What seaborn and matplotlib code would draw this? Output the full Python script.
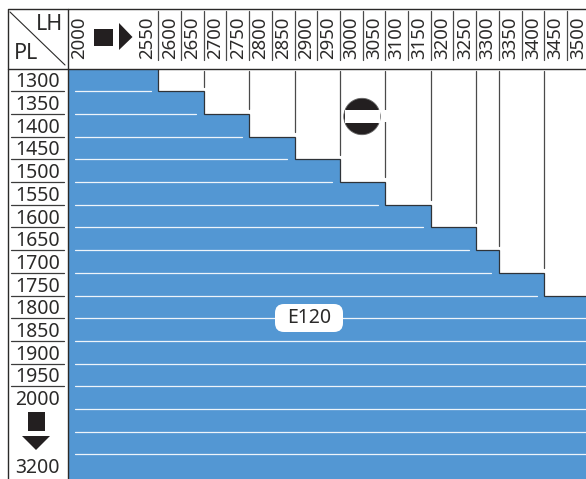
import numpy as np
import seaborn as sns
import matplotlib.pyplot as plt
from matplotlib.patches import Circle, FancyBboxPatch, Polygon, Rectangle

# header and row labels, '' = cell taken by the arrow markers
lh_labels = ['2000', '', '', '2550', '2600', '2650', '2700', '2750', '2800', '2850', '2900',
             '2950', '3000', '3050', '3100', '3150', '3200', '3250', '3300', '3350', '3400',
             '3450', '3500']
pl_labels = ['1300', '1350', '1400', '1450', '1500', '1550', '1600', '1650', '1700', '1750',
             '1800', '1850', '1900', '1950', '2000', '', '', '3200']
# biggest LH available for each PL row
max_lh = ['2550', '2650', '2750', '2850', '2950', '3050', '3150', '3250', '3300', '3400',
          '3500', '3500', '3500', '3500', '3500', '3500', '3500', '3500']

BLUE = '#5397d3'
DARK = '#2b2a29'
W, H = 586, 479
X0, Y0 = 67.5, 68.5
CELL = 22.7

sns.set_theme(style='white')
plt.rcParams['font.family'] = ['Noto Sans', 'DejaVu Sans']

ends = [lh_labels.index(v) + 1 for v in max_lh]
grid = np.zeros((len(pl_labels), len(lh_labels)))
for i, e in enumerate(ends):
    grid[i, :e] = 1

fig = plt.figure(figsize=(W / 100, H / 100), dpi=100)
ax = fig.add_axes([X0 / W, 0, 1 - X0 / W, 1 - Y0 / H])
ax.set_facecolor(BLUE)
sns.heatmap(grid, ax=ax, cmap=['white', BLUE], vmin=0, vmax=1, cbar=False,
            xticklabels=lh_labels, yticklabels=pl_labels)
ax.set_xlim(0, (W - X0) / CELL)
ax.set_ylim((H - Y0) / CELL, 0)
ax.xaxis.tick_top()
ax.tick_params(axis='x', length=0, pad=6.8, labelsize=13.4, labelcolor=DARK, labelrotation=90)
ax.tick_params(axis='y', length=0, pad=21.5, labelsize=14, labelcolor=DARK, labelrotation=0)
for t in ax.get_yticklabels():
    t.set_ha('center')
    t.set_va('center_baseline')

n_rows = len(pl_labels)

# staircase outline
sx, sy = [ends[0]], [0]
for i in range(len(ends) - 1):
    sx += [ends[i], ends[i + 1]]
    sy += [i + 1, i + 1]
    if ends[i + 1] == ends[-1]:
        break
ax.plot(sx, sy, color='#2f3338', lw=0.9, solid_joinstyle='miter', zorder=3)

# white row rules, stopping short of the step
for i in range(n_rows - 1):
    right = ends[i] - 0.33 if ends[i] < len(lh_labels) else len(lh_labels)
    ax.plot([0.33, right], [i + 1, i + 1], color='white', lw=0.9, alpha=0.9, zorder=3)

# column rules in the free area, stopping short of the step
for i in range(1, len(ends)):
    if ends[i] == ends[i - 1]:
        continue
    ax.plot([ends[i]] * 2, [0.12, i - 0.2], color='#4a4a4a', lw=0.9, zorder=2)

# row rules in the label column
for i in range(14):
    ax.plot([(10.5 - X0) / CELL, (63.5 - X0) / CELL], [i + 1, i + 1], color='#3c3c3c', lw=0.9,
            clip_on=False)

# overlay in pixels for frame, markers and callouts
ov = fig.add_axes([0, 0, 1, 1], facecolor='none')
ov.set_xlim(0, W)
ov.set_ylim(H, 0)
ov.axis('off')

ov.plot([W, 7.5, 7.5], [8.5, 8.5, H], color=DARK, lw=1)
ov.plot([67.5, 67.5], [8.5, H], color=DARK, lw=1)
ov.plot([7.5, W], [68.5, 68.5], color=DARK, lw=1)
ov.plot([10, 65], [12, 65], color=DARK, lw=0.8)
ov.text(49.5, 24, 'LH', ha='center', va='center', fontsize=15.5, color=DARK)
ov.text(26.5, 53, 'PL', ha='center', va='center', fontsize=15.5, color=DARK)

# header separators
for k in range(3, len(lh_labels) - 1):
    x = X0 + (k + 1) * CELL
    ov.plot([x, x], [11, 60], color='#4a4a4a', lw=0.9)

# arrow markers
ov.add_patch(Rectangle((94, 29), 19, 17, color='#231f20', lw=0))
ov.add_patch(Polygon([(119, 23), (119, 50), (132.5, 37)], color='#231f20', lw=0))
ov.add_patch(Rectangle((28, 412), 17, 19, color='#231f20', lw=0))
ov.add_patch(Polygon([(22, 436), (50, 436), (36, 450)], color='#231f20', lw=0))

# no-entry mark, with a gap cut into the rule on its right
ov.add_patch(Rectangle((381, 110), 8, 12, color='white', lw=0, zorder=4))
ov.add_patch(Circle((362, 116.5), 18.2, facecolor='#231f20', edgecolor='#666666', lw=0.6, zorder=5))
ov.add_patch(Rectangle((344.5, 110), 35, 13, color='white', lw=0, zorder=6))

# E120 callout
ov.add_patch(FancyBboxPatch((275, 304), 68, 28, boxstyle='round,pad=0,rounding_size=9',
                            facecolor='white', edgecolor='none', zorder=4))
ov.text(309.5, 318, 'E120', ha='center', va='center', fontsize=14, color=DARK, zorder=5)

fig.savefig('out.png', dpi=100)
